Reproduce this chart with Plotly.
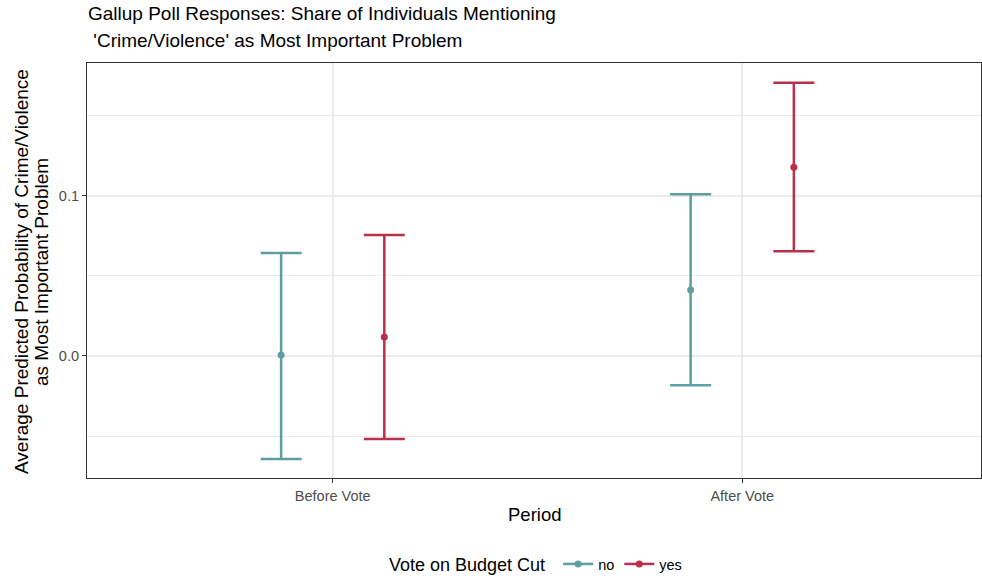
import plotly.graph_objects as go

periods = ["Before Vote", "After Vote"]
groups = ["no", "yes"]
estimate = {"no": [0.0006, 0.0413], "yes": [0.0119, 0.1180]}
lower = {"no": [-0.0644, -0.0183], "yes": [-0.0519, 0.0654]}
upper = {"no": [0.0644, 0.1010], "yes": [0.0756, 0.1708]}
colors = {"no": "#5F9EA0", "yes": "#B8304B"}
dodge = {"no": -0.126, "yes": 0.126}

title_lines = ["Gallup Poll Responses: Share of Individuals Mentioning",
               "\u00a0'Crime/Violence' as Most Important Problem"]
ytitle_lines = ["Average Predicted Probability of Crime/Violence",
                "as Most Important Problem"]

fig = go.Figure()
for g in groups:
    xs = [i + 1 + dodge[g] for i in range(len(periods))]
    ys = estimate[g]
    fig.add_trace(go.Scatter(
        x=xs, y=ys, mode="markers", showlegend=False,
        marker=dict(color=colors[g], size=7),
        error_y=dict(type="data", symmetric=False,
                     array=[u - y for u, y in zip(upper[g], ys)],
                     arrayminus=[y - l for l, y in zip(lower[g], ys)],
                     color=colors[g], thickness=2.5, width=20.5),
    ))
    fig.add_trace(go.Scatter(
        x=[None], y=[None], mode="lines+markers", name=g,
        line=dict(color=colors[g], width=2.5),
        marker=dict(color=colors[g], size=7),
    ))

L, R, T, B = 87, 1, 63, 101
PW, PH = 982 - L - R, 579 - T - B


def px(xp):
    return (xp - L) / PW


def py(yp):
    return (579 - B - yp) / PH


annos = [
    dict(text=title_lines[0], x=0, xanchor="left", y=py(13), yanchor="middle",
         font=dict(size=19, color="black")),
    dict(text=title_lines[1], x=0, xanchor="left", y=py(40), yanchor="middle",
         font=dict(size=19, color="black")),
    dict(text=ytitle_lines[0], x=px(21), xanchor="center", y=py(272), yanchor="middle",
         textangle=-90, font=dict(size=19, color="black")),
    dict(text=ytitle_lines[1], x=px(41), xanchor="center", y=py(272), yanchor="middle",
         textangle=-90, font=dict(size=19, color="black")),
    dict(text="Period", x=0.5, xanchor="center", y=py(514), yanchor="middle",
         font=dict(size=18.5, color="black")),
]
for a in annos:
    a.update(xref="paper", yref="paper", showarrow=False, borderpad=0)

grid = "#EBEBEB"
fig.update_layout(
    width=982, height=579,
    margin=dict(l=L, r=R, t=T, b=B, autoexpand=False),
    plot_bgcolor="white", paper_bgcolor="white",
    font=dict(family="Liberation Sans, Arial, sans-serif", color="black"),
    annotations=annos,
    xaxis=dict(range=[0.4, 2.583], tickvals=[1, 2], ticktext=periods,
               showgrid=True, gridcolor=grid, gridwidth=1.5,
               ticks="outside", ticklen=4, tickcolor="#333333",
               tickfont=dict(size=14.5, color="#4D4D4D"),
               showline=True, linecolor="#333333", linewidth=1.2, mirror=True,
               zeroline=False),
    yaxis=dict(range=[-0.07625, 0.1831], tickvals=[0.0, 0.1], ticktext=["0.0", "0.1"],
               showgrid=True, gridcolor=grid, gridwidth=1.5,
               minor=dict(tickvals=[-0.05, 0.05, 0.15], showgrid=True, gridcolor=grid, gridwidth=1),
               ticks="outside", ticklen=4, tickcolor="#333333",
               tickfont=dict(size=14.5, color="#4D4D4D"),
               showline=True, linecolor="#333333", linewidth=1.2, mirror=True,
               zeroline=False),
    legend=dict(orientation="h", x=px(537), xanchor="center", y=py(565), yanchor="middle",
                title=dict(text="Vote on Budget Cut ", font=dict(size=18)),
                font=dict(size=14.5), itemwidth=30, tracegroupgap=0),
)

fig.write_html("out.html", config={"displayModeBar": False},
               post_script="document.body.style.margin='0';document.body.style.overflow='hidden';")
